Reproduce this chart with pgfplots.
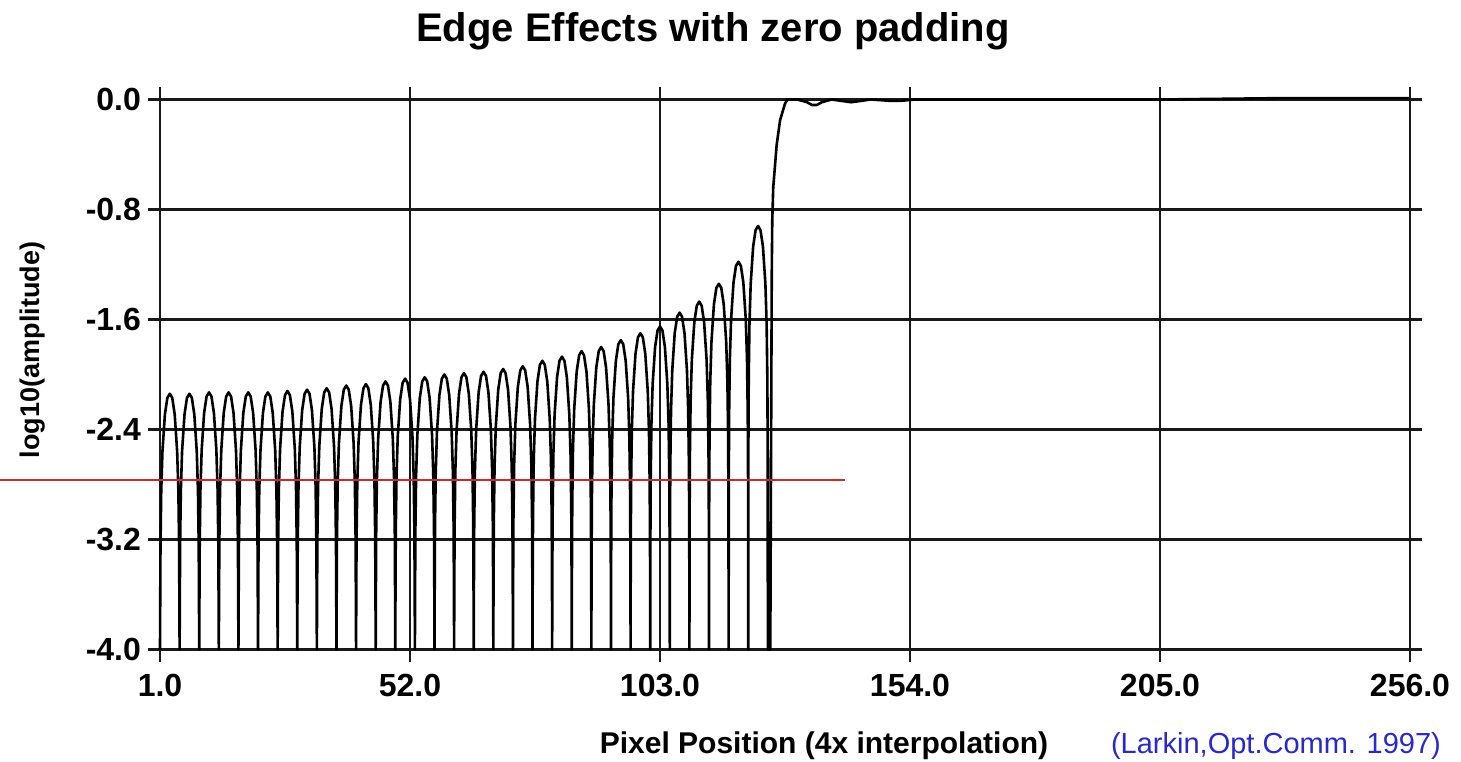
\documentclass[border=0pt]{standalone}
\usepackage{pgfplots}
\pgfplotsset{compat=1.18}
\usepackage{fontspec}
\setmainfont{Liberation Sans}
\definecolor{citeblue}{RGB}{40,40,205}
\definecolor{annred}{RGB}{210,40,40}
\begin{document}
\begin{tikzpicture}
\path[use as bounding box] (-80pt,-55.75pt) rectangle (650.5pt,324.75pt);
\begin{axis}[
  at={(0pt,0pt)}, anchor=south west,
  scale only axis, width=625pt, height=275pt,
  xmin=1, xmax=256, ymin=-4, ymax=0,
  xtick={1,52,103,154,205,256},
  xticklabels={1.0,52.0,103.0,154.0,205.0,256.0},
  ytick={-4,-3.2,-2.4,-1.6,-0.8,0},
  yticklabels={-4.0,-3.2,-2.4,-1.6,-0.8,0.0},
  grid=major,
  major grid style={black!90, line width=1.2pt},
  axis line style={black!90, line width=1.2pt},
  tick align=outside, major tick length=6pt,
  tick style={black!90, line width=1.2pt},
  ticklabel style={font=\bfseries\fontsize{16}{16}\selectfont},
  xticklabel style={yshift=-3pt},
  clip=false,
]
\addplot[black, line width=1.3pt, line join=round, mark=none] coordinates {
(1,-4)(1.03,-3.77)(1.1,-3.25)(1.25,-2.85)(1.5,-2.56)(2,-2.29)(2.5,-2.17)(3,-2.14)(3.5,-2.17)(4,-2.29)(4.5,-2.56)(4.75,-2.85)(4.9,-3.25)(4.97,-3.77)
(5,-4)(5.03,-3.77)(5.1,-3.25)(5.25,-2.85)(5.5,-2.56)(6,-2.29)(6.5,-2.17)(7,-2.14)(7.5,-2.17)(8,-2.29)(8.5,-2.56)(8.75,-2.85)(8.9,-3.25)(8.97,-3.77)
(9,-4)(9.03,-3.76)(9.1,-3.24)(9.25,-2.84)(9.5,-2.55)(10,-2.28)(10.5,-2.16)(11,-2.13)(11.5,-2.16)(12,-2.28)(12.5,-2.55)(12.75,-2.84)(12.9,-3.24)(12.97,-3.76)
(13,-4)(13.03,-3.76)(13.1,-3.24)(13.25,-2.84)(13.5,-2.55)(14,-2.28)(14.5,-2.16)(15,-2.13)(15.5,-2.16)(16,-2.28)(16.5,-2.55)(16.75,-2.84)(16.9,-3.24)(16.97,-3.76)
(17,-4)(17.03,-3.76)(17.1,-3.24)(17.25,-2.84)(17.5,-2.55)(18,-2.28)(18.5,-2.16)(19,-2.13)(19.5,-2.16)(20,-2.28)(20.5,-2.55)(20.75,-2.84)(20.9,-3.24)(20.97,-3.76)
(21,-4)(21.03,-3.76)(21.1,-3.24)(21.25,-2.84)(21.5,-2.55)(22,-2.28)(22.5,-2.16)(23,-2.13)(23.5,-2.16)(24,-2.28)(24.5,-2.55)(24.75,-2.84)(24.9,-3.24)(24.97,-3.76)
(25,-4)(25.03,-3.75)(25.1,-3.23)(25.25,-2.83)(25.5,-2.54)(26,-2.27)(26.5,-2.15)(27,-2.12)(27.5,-2.15)(28,-2.27)(28.5,-2.54)(28.75,-2.83)(28.9,-3.23)(28.97,-3.75)
(29,-4)(29.03,-3.74)(29.1,-3.22)(29.25,-2.82)(29.5,-2.53)(30,-2.26)(30.5,-2.14)(31,-2.11)(31.5,-2.14)(32,-2.26)(32.5,-2.53)(32.75,-2.82)(32.9,-3.22)(32.97,-3.74)
(33,-4)(33.03,-3.73)(33.1,-3.21)(33.25,-2.81)(33.5,-2.52)(34,-2.25)(34.5,-2.13)(35,-2.10)(35.5,-2.13)(36,-2.25)(36.5,-2.52)(36.75,-2.81)(36.9,-3.21)(36.97,-3.73)
(37,-4)(37.03,-3.71)(37.1,-3.19)(37.25,-2.79)(37.5,-2.50)(38,-2.23)(38.5,-2.11)(39,-2.08)(39.5,-2.11)(40,-2.23)(40.5,-2.50)(40.75,-2.79)(40.9,-3.19)(40.97,-3.71)
(41,-4)(41.03,-3.70)(41.1,-3.18)(41.25,-2.78)(41.5,-2.49)(42,-2.22)(42.5,-2.10)(43,-2.07)(43.5,-2.10)(44,-2.22)(44.5,-2.49)(44.75,-2.78)(44.9,-3.18)(44.97,-3.70)
(45,-4)(45.03,-3.68)(45.1,-3.16)(45.25,-2.76)(45.5,-2.47)(46,-2.20)(46.5,-2.08)(47,-2.05)(47.5,-2.08)(48,-2.20)(48.5,-2.47)(48.75,-2.76)(48.9,-3.16)(48.97,-3.68)
(49,-4)(49.03,-3.66)(49.1,-3.14)(49.25,-2.74)(49.5,-2.45)(50,-2.18)(50.5,-2.06)(51,-2.03)(51.5,-2.06)(52,-2.18)(52.5,-2.45)(52.75,-2.74)(52.9,-3.14)(52.97,-3.66)
(53,-4)(53.03,-3.65)(53.1,-3.13)(53.25,-2.73)(53.5,-2.44)(54,-2.17)(54.5,-2.05)(55,-2.02)(55.5,-2.05)(56,-2.17)(56.5,-2.44)(56.75,-2.73)(56.9,-3.13)(56.97,-3.65)
(57,-4)(57.03,-3.63)(57.1,-3.11)(57.25,-2.71)(57.5,-2.42)(58,-2.15)(58.5,-2.03)(59,-2.00)(59.5,-2.03)(60,-2.15)(60.5,-2.42)(60.75,-2.71)(60.9,-3.11)(60.97,-3.63)
(61,-4)(61.03,-3.62)(61.1,-3.10)(61.25,-2.70)(61.5,-2.41)(62,-2.14)(62.5,-2.02)(63,-1.99)(63.5,-2.02)(64,-2.14)(64.5,-2.41)(64.75,-2.70)(64.9,-3.10)(64.97,-3.62)
(65,-4)(65.03,-3.61)(65.1,-3.09)(65.25,-2.69)(65.5,-2.40)(66,-2.13)(66.5,-2.01)(67,-1.98)(67.5,-2.01)(68,-2.13)(68.5,-2.40)(68.75,-2.69)(68.9,-3.09)(68.97,-3.61)
(69,-4)(69.03,-3.59)(69.1,-3.07)(69.25,-2.67)(69.5,-2.38)(70,-2.11)(70.5,-1.99)(71,-1.96)(71.5,-1.99)(72,-2.11)(72.5,-2.38)(72.75,-2.67)(72.9,-3.07)(72.97,-3.59)
(73,-4)(73.03,-3.57)(73.1,-3.05)(73.25,-2.65)(73.5,-2.36)(74,-2.09)(74.5,-1.97)(75,-1.94)(75.5,-1.97)(76,-2.09)(76.5,-2.36)(76.75,-2.65)(76.9,-3.05)(76.97,-3.57)
(77,-4)(77.03,-3.53)(77.1,-3.01)(77.25,-2.61)(77.5,-2.32)(78,-2.05)(78.5,-1.93)(79,-1.90)(79.5,-1.93)(80,-2.05)(80.5,-2.32)(80.75,-2.61)(80.9,-3.01)(80.97,-3.53)
(81,-4)(81.03,-3.50)(81.1,-2.98)(81.25,-2.58)(81.5,-2.29)(82,-2.02)(82.5,-1.90)(83,-1.87)(83.5,-1.90)(84,-2.02)(84.5,-2.29)(84.75,-2.58)(84.9,-2.98)(84.97,-3.50)
(85,-4)(85.03,-3.46)(85.1,-2.94)(85.25,-2.54)(85.5,-2.25)(86,-1.98)(86.5,-1.86)(87,-1.83)(87.5,-1.86)(88,-1.98)(88.5,-2.25)(88.75,-2.54)(88.9,-2.94)(88.97,-3.46)
(89,-4)(89.03,-3.43)(89.1,-2.91)(89.25,-2.51)(89.5,-2.22)(90,-1.95)(90.5,-1.83)(91,-1.80)(91.5,-1.83)(92,-1.95)(92.5,-2.22)(92.75,-2.51)(92.9,-2.91)(92.97,-3.43)
(93,-4)(93.03,-3.38)(93.1,-2.86)(93.25,-2.46)(93.5,-2.17)(94,-1.90)(94.5,-1.78)(95,-1.75)(95.5,-1.78)(96,-1.90)(96.5,-2.17)(96.75,-2.46)(96.9,-2.86)(96.97,-3.38)
(97,-4)(97.03,-3.33)(97.1,-2.81)(97.25,-2.41)(97.5,-2.12)(98,-1.85)(98.5,-1.73)(99,-1.70)(99.5,-1.73)(100,-1.85)(100.5,-2.12)(100.75,-2.41)(100.9,-2.81)(100.97,-3.33)
(101,-4)(101.03,-3.28)(101.1,-2.76)(101.25,-2.36)(101.5,-2.07)(102,-1.80)(102.5,-1.68)(103,-1.65)(103.5,-1.68)(104,-1.80)(104.5,-2.07)(104.75,-2.36)(104.9,-2.76)(104.97,-3.28)
(105,-4)(105.03,-3.18)(105.1,-2.66)(105.25,-2.26)(105.5,-1.97)(106,-1.70)(106.5,-1.58)(107,-1.55)(107.5,-1.58)(108,-1.70)(108.5,-1.97)(108.75,-2.26)(108.9,-2.66)(108.97,-3.18)
(109,-4)(109.03,-3.10)(109.1,-2.58)(109.25,-2.18)(109.5,-1.89)(110,-1.62)(110.5,-1.50)(111,-1.47)(111.5,-1.50)(112,-1.62)(112.5,-1.89)(112.75,-2.18)(112.9,-2.58)(112.97,-3.10)
(113,-4)(113.03,-2.97)(113.1,-2.45)(113.25,-2.05)(113.5,-1.76)(114,-1.49)(114.5,-1.37)(115,-1.34)(115.5,-1.37)(116,-1.49)(116.5,-1.76)(116.75,-2.05)(116.9,-2.45)(116.97,-2.97)
(117,-4)(117.03,-2.81)(117.1,-2.29)(117.25,-1.89)(117.5,-1.60)(118,-1.33)(118.5,-1.21)(119,-1.18)(119.5,-1.21)(120,-1.33)(120.5,-1.60)(120.75,-1.89)(120.9,-2.29)(120.97,-2.81)
(121,-4)(121.03,-2.55)(121.1,-2.03)(121.25,-1.63)(121.5,-1.34)(122,-1.07)(122.5,-0.95)(123,-0.92)(123.5,-0.95)(124,-1.07)(124.5,-1.34)(124.75,-1.63)(124.9,-2.03)(124.97,-2.55)
(125,-4)(125.5,-4)(125.8,-1.26)(125.9,-0.88)(126.1,-0.64)(126.8,-0.33)(127.5,-0.15)(128.5,-0.03)(129,0)(131,0)(133,-0.02)(134,-0.04)(135,-0.04)(136,-0.02)(138,0)(140,-0.01)(142,-0.02)(144,-0.01)(146,0)(150,-0.01)(152,-0.01)(155,0)(180,0)(205,0)(230,0.01)(256,0.01)
};
\addplot[annred, line width=1pt, mark=none] coordinates {(-31.64,-2.764)(140.74,-2.764)};
\end{axis}
\node[anchor=base, font=\bfseries\fontsize{20}{20}\selectfont] at (276.5pt,303.75pt) {Edge Effects with zero padding};
\node[rotate=90, font=\bfseries\fontsize{13.5}{13.5}\selectfont] at (-63.5pt,149.75pt) {log10(amplitude)};
\node[anchor=base, font=\bfseries\fontsize{15}{15}\selectfont] at (332pt,-51.75pt) {Pixel Position (4x interpolation)};
\node[anchor=base, text=citeblue, font=\fontsize{14.5}{14.5}\selectfont] at (558pt,-51.75pt) {(Larkin,Opt.Comm. 1997)};
\end{tikzpicture}
\end{document}
